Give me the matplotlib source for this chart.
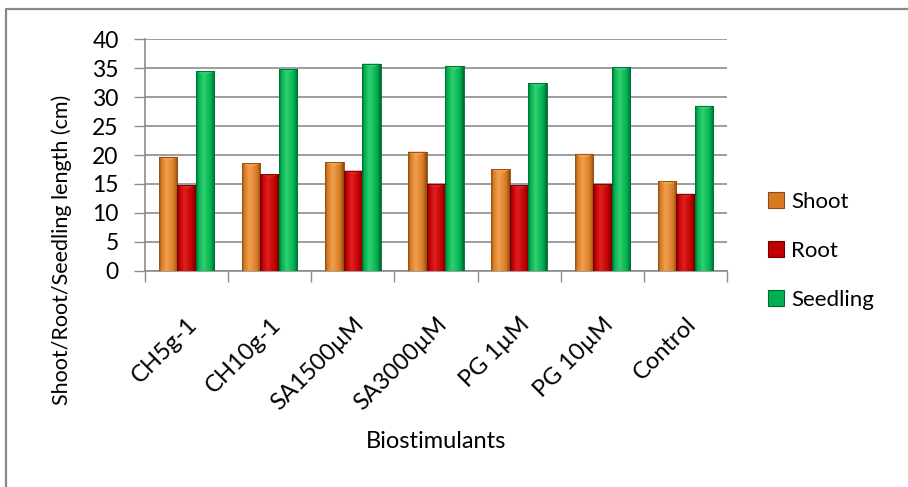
import numpy as np
import matplotlib
matplotlib.use("Agg")
import matplotlib.pyplot as plt
import matplotlib.transforms as mtrans
from matplotlib.colors import LinearSegmentedColormap
from matplotlib.patches import Patch, Polygon
from matplotlib.lines import Line2D

plt.rcParams['font.family'] = ['Lato', 'DejaVu Sans']

# data
treatments = ["CH5g-1", "CH10g-1", "SA1500µM", "SA3000µM", "PG 1µM", "PG 10µM", "Control"]
shoot = [19.7, 18.6, 18.8, 20.6, 17.5, 20.2, 15.5]
root = [14.8, 16.7, 17.3, 15.0, 14.8, 15.0, 13.3]
seedling = [34.5, 34.9, 35.8, 35.4, 32.4, 35.2, 28.5]
series_names = ["Shoot", "Root", "Seedling"]

# dark edge, body, highlight for each series
shades = {
    "Shoot": ("#8a4a12", "#d97a22", "#f0a050"),
    "Root": ("#6e0000", "#c00000", "#e02020"),
    "Seedling": ("#006a30", "#00b050", "#30d070"),
}

W, H = 908, 487
fig = plt.figure(figsize=(W / 100, H / 100), dpi=100)
ax = fig.add_axes([145 / W, 1 - 270.7 / H, (727 - 145) / W, (270.7 - 39.3) / H])

x = np.arange(len(treatments))
bw = 0.222
grad = np.linspace(0, 1, 64).reshape(1, -1)

for i, (name, vals) in enumerate(zip(series_names, [shoot, root, seedling])):
    dark, body, light = shades[name]
    cmap = LinearSegmentedColormap.from_list(
        name, [(0, dark), (0.12, body), (0.4, light), (0.8, body), (1, dark)])
    offs = x + (i - 1) * bw
    bars = ax.bar(offs, vals, bw, color=body, edgecolor=dark, linewidth=0.6, zorder=3)
    for b in bars:
        x0, w, h = b.get_x(), b.get_width(), b.get_height()
        im = ax.imshow(grad, cmap=cmap, aspect='auto', extent=(x0, x0 + w, 0, h),
                       zorder=3.5, interpolation='bilinear')
        im.set_clip_path(b)
        # bevelled top
        tri = Polygon([(x0, h), (x0 + w, h), (x0 + w / 2, h - 0.75)],
                      closed=True, facecolor=light, edgecolor='none', alpha=0.9, zorder=4)
        ax.add_patch(tri)
        ax.plot([x0, x0 + w], [h, h], color=dark, lw=0.6, zorder=4.1)

ax.set_xlim(-0.5, len(treatments) - 0.5)
ax.set_ylim(0, 40)
ax.set_yticks(range(0, 41, 5))
ax.yaxis.grid(True, color='#8c8c8c', lw=1.2, zorder=0)
ax.set_axisbelow(True)

ax.set_xticks(x)
ax.set_xticklabels(treatments, rotation=45, ha='right', rotation_mode='anchor', fontsize=17)
shift = mtrans.ScaledTranslation(4 / 100, 0, fig.dpi_scale_trans)
for lab in ax.get_xticklabels():
    lab.set_transform(lab.get_transform() + shift)
ax.set_xticks(np.arange(len(treatments) + 1) - 0.5, minor=True)
ax.tick_params(axis='x', which='major', length=0, pad=31)
ax.tick_params(axis='x', which='minor', length=8, width=1, color='#8c8c8c')
ax.tick_params(axis='y', length=8, width=1, color='#8c8c8c', labelsize=16.5, pad=11)

for s in ['top', 'right']:
    ax.spines[s].set_visible(False)
for s in ['left', 'bottom']:
    ax.spines[s].set_color('#8c8c8c')
    ax.spines[s].set_linewidth(1.2)

ax.set_ylabel("Shoot/Root/Seedling length (cm)", fontsize=15.5)
ax.yaxis.set_label_coords((72 - 145) / (727 - 145), (270.7 - 250) / (270.7 - 39.3))
fig.text(436 / W, 1 - 442 / H, "Biostimulants", fontsize=17, ha='center', va='center')

handles = [Patch(facecolor=shades[n][1], edgecolor=shades[n][0], linewidth=0.8) for n in series_names]
fig.legend(handles, series_names, loc='upper left', bbox_to_anchor=(748 / W, 1 - 172 / H),
           frameon=False, fontsize=16, handlelength=0.7, handleheight=0.7,
           handletextpad=0.35, labelspacing=1.3)

# chart area frame
fig.add_artist(Line2D([6 / W, 6 / W, 1], [0, 1 - 9 / H, 1 - 9 / H],
                      transform=fig.transFigure, color='#888888', lw=1.6))

fig.savefig("out.png", dpi=100)
